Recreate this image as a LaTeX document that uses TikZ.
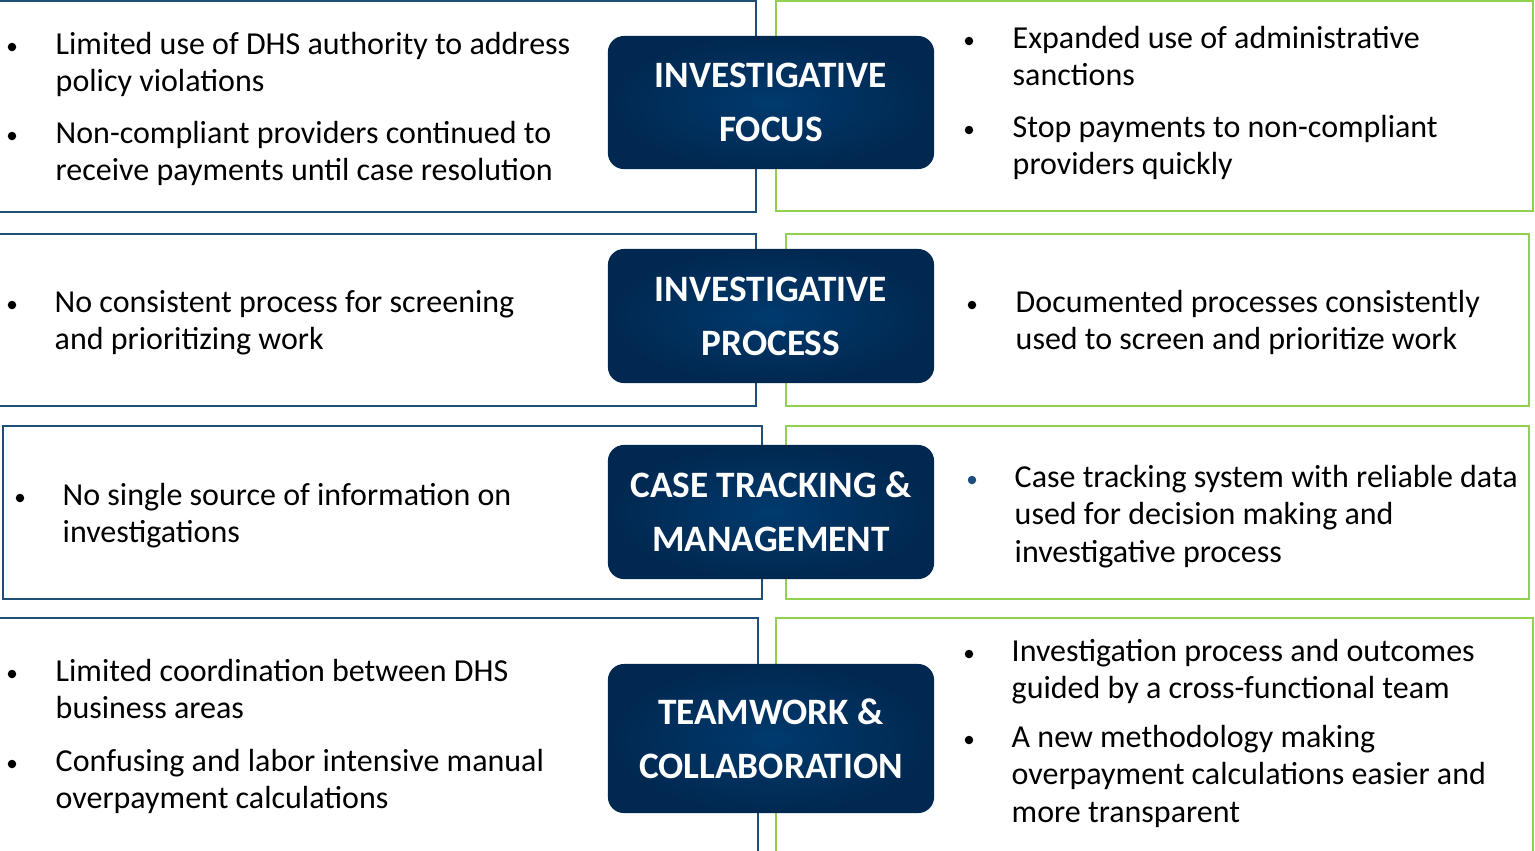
\documentclass[tikz,border=0pt]{standalone}
\usepackage{fontspec}
\setmainfont{Carlito}
\usetikzlibrary{positioning}

\definecolor{navyout}{RGB}{1,40,80}
\definecolor{navyin}{RGB}{0,58,110}
\definecolor{lineblue}{RGB}{31,78,121}
\definecolor{linegreen}{RGB}{146,208,80}

\begin{document}
\begin{tikzpicture}[x=0.01cm, y=-0.01cm,
    oldbox/.style={draw=lineblue, line width=0.45pt},
    newbox/.style={draw=linegreen, line width=0.5pt},
    topic/.style={rounded corners=0.16cm, inner color=navyin, outer color=navyout,
        minimum width=3.26cm, text=white, align=center,
        font=\fontsize{10.6}{15.4}\selectfont\bfseries},
    txt/.style={anchor=base west, inner sep=0pt, text width=6cm, align=flush left,
        font=\fontsize{9.1}{10.75}\selectfont},
    dot/.style={circle, fill=black, inner sep=0pt, minimum size=0.085cm}]
    \useasboundingbox (0,0) rectangle (1535,850);

    % before (left) and after (right) frames
    \draw[oldbox] (-5,1) rectangle (756,212);
    \draw[newbox] (776,1) rectangle (1533,211);
    \draw[oldbox] (-5,234) rectangle (756,406);
    \draw[newbox] (786,234) rectangle (1529,406);
    \draw[oldbox] (3,426) rectangle (762,599);
    \draw[newbox] (786,426) rectangle (1529,599);
    \draw[oldbox] (-5,618) rectangle (758,860);
    \draw[newbox] (776,618) rectangle (1533,860);

    % topics
    \node[topic, minimum height=1.33cm] (focus) at (771,102.5) {INVESTIGATIVE\\FOCUS};
    \node[topic, minimum height=1.34cm] (process) at (771,316) {INVESTIGATIVE\\PROCESS};
    \node[topic, minimum height=1.34cm] (tracking) at (771,512) {CASE TRACKING \&\\MANAGEMENT};
    \node[topic, minimum height=1.49cm] (teamwork) at (771,738.5) {TEAMWORK \&\\COLLABORATION};

    % investigative focus
    \node[dot] (b1a) at (12,47) {};
    \node[txt] (t1a) at (55,54) {Limited use of DHS authority to address\\policy violations};
    \node[dot] (b1b) at (12,136) {};
    \node[txt] (t1b) at (55,143) {Non-compliant providers continued to\\receive payments until case resolution};
    \node[dot] (b1c) at (969,41) {};
    \node[txt] (t1c) at (1012,48) {Expanded use of administrative\\sanctions};
    \node[dot] (b1d) at (969,130) {};
    \node[txt] (t1d) at (1012,137) {Stop payments to non-compliant\\providers quickly};

    % investigative process
    \node[dot] (b2a) at (12,305) {};
    \node[txt] (t2a) at (54,312) {No consistent process for screening\\and prioritizing work};
    \node[dot] (b2b) at (972,305) {};
    \node[txt] (t2b) at (1015,312) {Documented processes consistently\\used to screen and prioritize work};

    % case tracking
    \node[dot] (b3a) at (20,498) {};
    \node[txt] (t3a) at (62,505) {No single source of information on\\investigations};
    \node[dot, fill=lineblue] (b3b) at (972,480) {};
    \node[txt] (t3b) at (1014,487) {Case tracking system with reliable data\\used for decision making and\\investigative process};

    % teamwork
    \node[dot] (b4a) at (12,674) {};
    \node[txt] (t4a) at (55,681) {Limited coordination between DHS\\business areas};
    \node[dot] (b4b) at (12,764) {};
    \node[txt] (t4b) at (55,771) {Confusing and labor intensive manual\\overpayment calculations};
    \node[dot] (b4c) at (969,654) {};
    \node[txt] (t4c) at (1011,661) {Investigation process and outcomes\\guided by a cross-functional team};
    \node[dot] (b4d) at (969,740) {};
    \node[txt] (t4d) at (1011,747) {A new methodology making\\overpayment calculations easier and\\more transparent};
\end{tikzpicture}
\end{document}
